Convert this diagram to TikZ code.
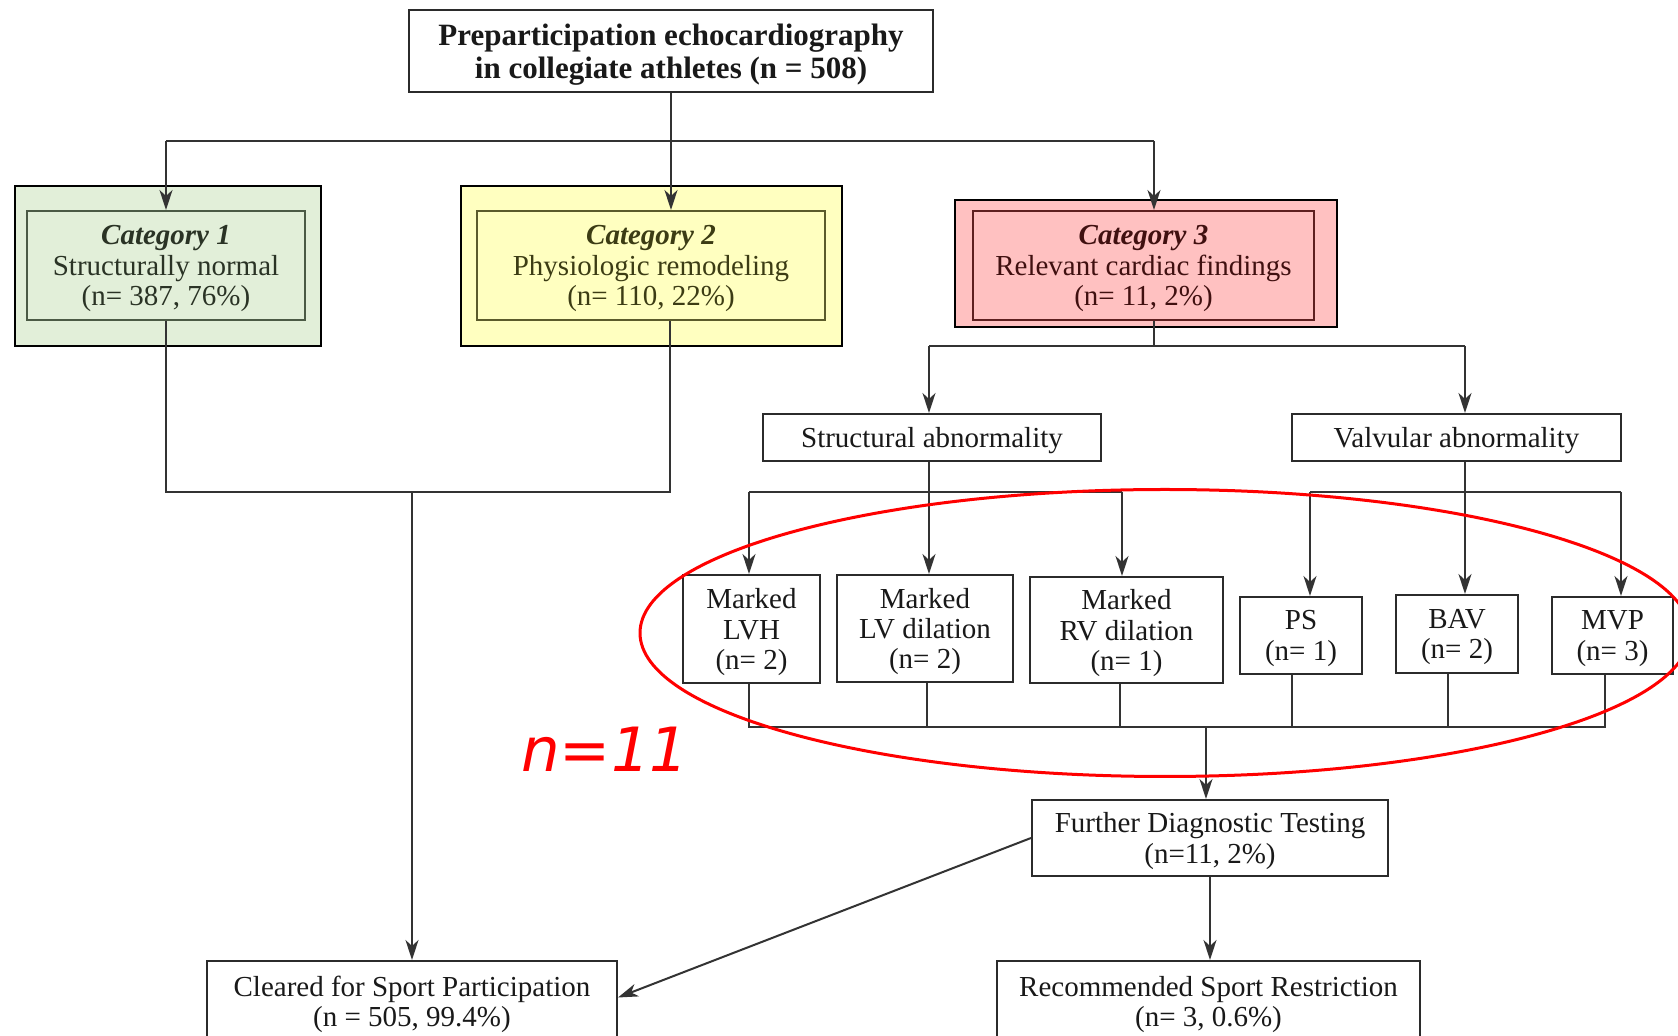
\documentclass[tikz,border=0pt]{standalone}
\usepackage{fontspec}
\setmainfont{Liberation Serif}
\setsansfont{DejaVu Sans}
\usetikzlibrary{arrows.meta}
\definecolor{cAfill}{HTML}{E2EFD9}
\definecolor{cBfill}{HTML}{FFFFC0}
\definecolor{cCfill}{HTML}{FFC1C1}
\definecolor{cAline}{HTML}{4B5A45}
\definecolor{cBline}{HTML}{5B5B2B}
\definecolor{cCline}{HTML}{5E2020}
\definecolor{cAtext}{HTML}{2A3325}
\definecolor{cBtext}{HTML}{3C3C14}
\definecolor{cCtext}{HTML}{401010}
\definecolor{connc}{HTML}{333333}
\definecolor{boxline}{HTML}{2B2B2B}
\tikzset{
  txt/.style={font=\fontsize{14.5}{15.2}\selectfont},
  box/.style={draw=boxline, line width=1pt, fill=white, align=center, inner sep=0pt, text depth=0pt, txt, text=black!90},
  outerbox/.style={draw=black, line width=1.4pt, inner sep=0pt},
  innerbox/.style={draw=#1, line width=1pt, align=center, inner sep=0pt, text depth=0pt, txt},
  conn/.style={draw=connc, line width=1pt},
  arr/.style={conn, -{Stealth[length=10pt,width=6.5pt,inset=3pt]}},
}
\begin{document}
\begin{tikzpicture}[x=0.5pt,y=-0.5pt]
\useasboundingbox (0,0) rectangle (1678,1036);
\clip (0,0) rectangle (1678,1036);
\fill[white] (0,0) rectangle (1678,1036);

% top
\node[box, minimum width=262pt, minimum height=41pt, font=\bfseries\fontsize{15.5}{16.5}\selectfont] (top) at (671,51)
  {Preparticipation echocardiography\\in collegiate athletes (n = 508)};

% categories
\node[outerbox, fill=cAfill, minimum width=153pt, minimum height=80pt] (c1out) at (168,266) {};
\node[innerbox=cAline, fill=cAfill, text=cAtext, minimum width=139pt, minimum height=54.5pt] (cat1) at (166,265.5)
  {\textbf{\textit{Category 1}}\\Structurally normal\\(n= 387, 76\%)};
\node[outerbox, fill=cBfill, minimum width=190.5pt, minimum height=80pt] (c2out) at (651.5,266) {};
\node[innerbox=cBline, fill=cBfill, text=cBtext, minimum width=174pt, minimum height=54.5pt] (cat2) at (651,265.5)
  {\textbf{\textit{Category 2}}\\Physiologic remodeling\\(n= 110, 22\%)};
\node[outerbox, fill=cCfill, minimum width=191pt, minimum height=63.5pt] (c3out) at (1146,263.5) {};
\node[innerbox=cCline, fill=cCfill, text=cCtext, minimum width=170.5pt, minimum height=54.5pt] (cat3) at (1143.5,265.5)
  {\textbf{\textit{Category 3}}\\Relevant cardiac findings\\(n= 11, 2\%)};

% abnormality boxes
\node[box, minimum width=169pt, minimum height=23.5pt] (struct) at (932,437.5) {Structural abnormality};
\node[box, minimum width=164.5pt, minimum height=23.5pt] (valv) at (1456.5,437.5) {Valvular abnormality};

% findings
\node[box, minimum width=68.5pt, minimum height=54pt] (lvh) at (751.5,629) {Marked\\LVH\\(n= 2)};
\node[box, minimum width=88pt, minimum height=53.5pt] (lvd) at (925,628.5) {Marked\\LV dilation\\(n= 2)};
\node[box, minimum width=96.5pt, minimum height=53pt] (rvd) at (1126.5,630) {Marked\\RV dilation\\(n= 1)};
\node[box, minimum width=61pt, minimum height=38.5pt] (ps) at (1301,635.5) {PS\\(n= 1)};
\node[box, minimum width=61pt, minimum height=39pt] (bav) at (1457,634) {BAV\\(n= 2)};
\node[box, minimum width=60.5pt, minimum height=38.5pt] (mvp) at (1612.5,635.5) {MVP\\(n= 3)};

% outcomes
\node[box, minimum width=178pt, minimum height=38pt] (further) at (1210,838) {Further Diagnostic Testing\\(n=11, 2\%)};
\node[box, minimum width=205pt, minimum height=40.5pt] (cleared) at (412,1001.5) {Cleared for Sport Participation\\(n = 505, 99.4\%)};
\node[box, minimum width=211.5pt, minimum height=40.5pt] (restr) at (1208.5,1001.5) {Recommended Sport Restriction\\(n= 3, 0.6\%)};

% connectors top
\coordinate (t1) at (166,141);
\coordinate (t3) at (1154,141);
\draw[conn] (t1) -- (t3);
\draw[conn] (top.south) -- (top.south |- t1);
\draw[arr] (t1) -- (t1 |- cat1.north);
\draw[arr] (top.south |- t1) -- (top.south |- cat2.north);
\draw[arr] (t3) -- (t3 |- cat3.north);

% cat1 / cat2 to cleared
\coordinate (m2) at (670,492);
\draw[conn] (cat1.south) |- (m2) -- (m2 |- cat2.south);
\draw[arr] (cleared.north |- m2) -- (cleared.north);

% cat3 split
\coordinate (a1) at (929,346);
\coordinate (a2) at (1465,346);
\draw[conn] (t3 |- cat3.south) -- (t3 |- a1);
\draw[conn] (a1) -- (a2);
\draw[arr] (a1) -- (a1 |- struct.north);
\draw[arr] (a2) -- (a2 |- valv.north);

% structural split
\coordinate (b1) at (749,492);
\coordinate (b2) at (1122,492);
\draw[conn] (a1 |- struct.south) -- (a1 |- b1);
\draw[conn] (b1) -- (b2);
\draw[arr] (b1) -- (b1 |- lvh.north);
\draw[arr] (a1 |- b1) -- (a1 |- lvd.north);
\draw[arr] (b2) -- (b2 |- rvd.north);

% valvular split
\coordinate (v1) at (1310,492);
\coordinate (v2) at (1621,492);
\draw[conn] (a2 |- valv.south) -- (a2 |- v1);
\draw[conn] (v1) -- (v2);
\draw[arr] (v1) -- (v1 |- ps.north);
\draw[arr] (a2 |- v1) -- (a2 |- bav.north);
\draw[arr] (v2) -- (v2 |- mvp.north);

% merge to further testing
\coordinate (d1) at (749,727);
\coordinate (d2) at (1605,727);
\coordinate (d0) at (1206,727);
\draw[conn] (d1 |- lvh.south) -- (d1) -- (d2) -- (d2 |- mvp.south);
\draw[conn] ([xshift=1pt]lvd.south) -- ([xshift=1pt]lvd.south |- d1);
\draw[conn] ([xshift=-3.25pt]rvd.south) -- ([xshift=-3.25pt]rvd.south |- d1);
\draw[conn] ([xshift=-4.5pt]ps.south) -- ([xshift=-4.5pt]ps.south |- d1);
\draw[conn] ([xshift=-4.5pt]bav.south) -- ([xshift=-4.5pt]bav.south |- d1);
\draw[arr] (d0) -- (d0 |- further.north);

% outcomes
\draw[arr] (further.south) -- (further.south |- restr.north);
\draw[arr] (further.west) -- ([yshift=2pt]cleared.east);

% highlight
\draw[red, line width=1.5pt] (1165,633) ellipse [x radius=262.5pt, y radius=71.75pt];
\node[anchor=base, text=red, inner sep=0pt, font=\sffamily\itshape\fontsize{30.5}{30.5}\selectfont] (nlabel) at (605,772) {n=11};
\end{tikzpicture}
\end{document}
